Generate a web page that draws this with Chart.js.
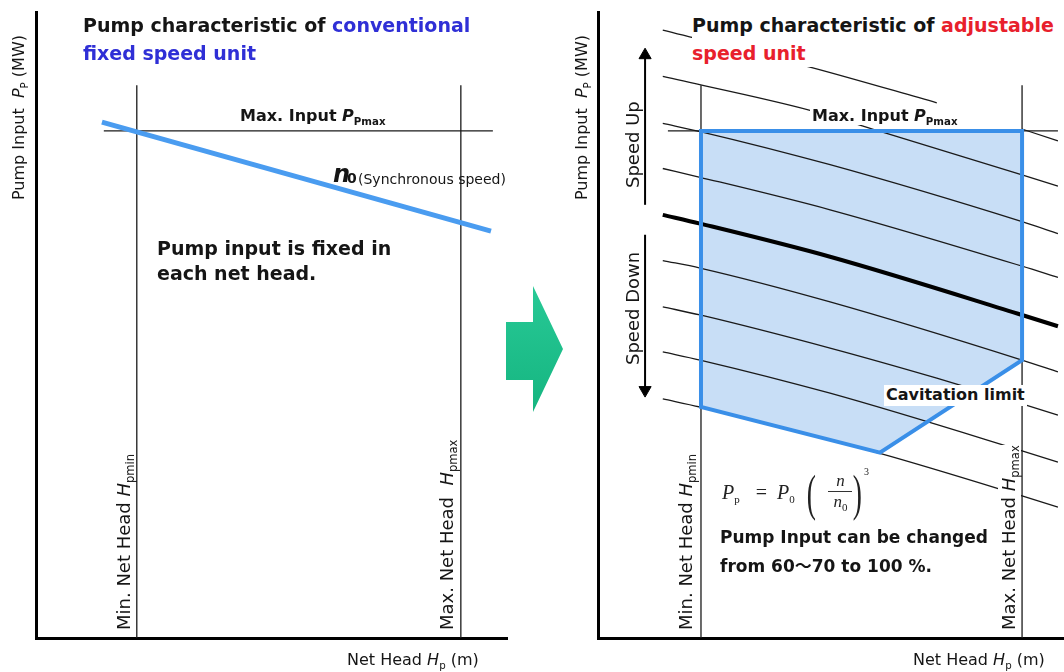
<!DOCTYPE html>
<html>
<head>
  <meta charset="UTF-8">
  <title>Pump characteristic: fixed vs adjustable speed</title>
  <script src="https://cdn.jsdelivr.net/npm/chart.js@4"></script>
  <style>
    html, body { margin: 0; background: #fff; }
    body { position: relative; width: 1064px; height: 672px; overflow: hidden;
           font-family: "DejaVu Sans", sans-serif; color: #151515; }
    .box { position: absolute; top: 0; }
    .lbl { position: absolute; white-space: nowrap; line-height: 1; }
    .rot { position: absolute; white-space: nowrap; line-height: 1;
           transform-origin: 0 0; transform: rotate(-90deg); }
    .b { font-weight: bold; }
    .bg { background: #fff; }
    .blue { color: #2f2fd6; }
    .red { color: #e8202c; }
    sub { font-size: 0.64em; vertical-align: -0.35em; line-height: 0; }
    .title { font-size: 19px; line-height: 28px; font-weight: bold; }
    .formula { font-family: "Liberation Serif", serif; font-size: 20px; color: #222; }
    .formula sub { font-size: 11px; vertical-align: -4px; }
    .formula .eq { margin: 0 10px 0 16px; font-style: normal; }
    .formula .par { font-size: 50px; font-weight: 100; vertical-align: -11px; display: inline-block; transform: scaleX(0.55); margin: 0 1px 0 8px; }
    .formula .par.close { margin: 0 0 0 -3px; }
    .formula .frac { display: inline-block; vertical-align: -8px; text-align: center; font-size: 17px; line-height: 1.15; margin: 0 0 0 8px; }
    .formula .frac span { display: block; padding: 0 5px; }
    .formula .frac .num { border-bottom: 1px solid #333; }
    .formula sup { font-size: 10px; vertical-align: 24px; line-height: 0; margin-left: -2px; }
    #arrow { position: absolute; left: 506px; top: 286px; width: 57px; height: 126px;
             background: linear-gradient(#28c996, #15b580);
             clip-path: polygon(0 36px, 27px 36px, 27px 0, 57px 63px, 27px 126px, 27px 94px, 0 94px); }
  </style>
</head>
<body>
  <div class="box" style="left:0"><canvas id="fixed" width="520" height="672"></canvas></div>
  <div class="box" style="left:540px"><canvas id="adjust" width="524" height="672"></canvas></div>
  <div id="arrow"></div>

  <!-- left: conventional fixed speed unit -->
  <div class="lbl title" style="left:83px;top:11px">Pump characteristic of <span class="blue">conventional</span><br><span class="blue">fixed speed unit</span></div>
  <div class="lbl b" style="left:240px;top:108px;font-size:16px">Max. Input <i>P</i><sub>Pmax</sub></div>
  <div class="lbl b" style="left:333px;top:162px;font-size:24px"><i>n</i><sub style="font-size:14px;vertical-align:-1px;margin-left:-3px">0</sub></div>
  <div class="lbl" style="left:358px;top:172px;font-size:14px">(Synchronous speed)</div>
  <div class="lbl b" style="left:157px;top:236px;font-size:19px;line-height:25px">Pump input is fixed in<br>each net head.</div>
  <div class="rot" style="left:115px;top:630px;font-size:18px">Min. Net Head <i>H</i><sub>pmin</sub></div>
  <div class="rot" style="left:438px;top:630px;font-size:18px">Max. Net Head&nbsp; <i>H</i><sub>pmax</sub></div>
  <div class="rot" style="left:11px;top:200px;font-size:16px">Pump Input&nbsp; <i>P</i><sub>P</sub> (MW)</div>
  <div class="lbl" style="left:347px;top:652px;font-size:16px">Net Head <i>H</i><sub>p</sub> (m)</div>

  <!-- right: adjustable speed unit -->
  <div class="lbl title bg" style="left:692px;top:11px">Pump characteristic of <span class="red">adjustable</span><br><span class="red">speed unit</span></div>
  <div class="lbl b bg" style="left:810px;top:106px;font-size:16px;padding:2px 2px 1px">Max. Input <i>P</i><sub>Pmax</sub></div>
  <div class="rot" style="left:624px;top:188px;font-size:18px">Speed Up</div>
  <div class="rot" style="left:624px;top:365px;font-size:18px">Speed Down</div>
  <div class="rot" style="left:574px;top:200px;font-size:16px">Pump Input&nbsp; <i>P</i><sub>P</sub> (MW)</div>
  <div class="lbl b bg" style="left:884px;top:385px;font-size:16px;padding:2px 2px 3px">Cavitation limit</div>
  <div class="rot" style="left:677px;top:630px;font-size:18px">Min. Net Head <i>H</i><sub>pmin</sub></div>
  <div class="rot bg" style="left:998px;top:630px;font-size:18px;padding:2px 0 3px">Max. Net Head <i>H</i><sub>pmax</sub></div>
  <div class="lbl formula" style="left:722px;top:468px"><i>P</i><sub>p</sub><span class="eq">=</span><i>P</i><sub>0</sub><span class="par">(</span><span class="frac"><span class="num"><i>n</i></span><span><i>n</i><sub>0</sub></span></span><span class="par close">)</span><sup>3</sup></div>
  <div class="lbl b" style="left:720px;top:524px;font-size:17px;line-height:27px">Pump Input can be changed<br>from 60<span style="font-family:'Noto Sans CJK JP'">〜</span>70 to 100 %.</div>
  <div class="lbl" style="left:913px;top:652px;font-size:16px">Net Head <i>H</i><sub>p</sub> (m)</div>

  <script>
    // x = net head, y = pump input, both as % of the drawn axis length

    // conventional fixed speed unit
    const fixedHeadMin = 21.4;
    const fixedHeadMax = 90.2;
    const headLineTop = 88.3;
    const inputMax = 81.0;
    const fixedInputMaxSpan = [14.4, 97.0];
    const fixedN0 = [[14.0, 82.4], [96.6, 65.0]];

    // adjustable speed unit
    const adjHeadMin = 22.1;
    const adjHeadMax = 91.0;
    const adjInputMaxSpan = [15.0, 98.7];
    const operatingRange = [[22.1, 81.0], [91.0, 81.0], [91.0, 44.4], [60.5, 29.6], [22.1, 36.9], [22.1, 81.0]];

    // constant speed curves, highest speed first (null = hidden behind a label)
    const speedUp4 = [[13.9, 97.1], [45.5, 91.2], [72.7, 85.5], [82.0, null], [91.0, 81.3], [98.7, 79.4]];
    const speedUp3 = [[13.9, 89.7], [45.5, 84.3], [61.6, 80.7], [91.0, 74.0], [98.7, 72.2]];
    const speedUp2 = [[13.9, 82.2], [21.9, 80.9], [49.8, 75.6], [91.0, 66.5], [98.7, 64.6]];
    const speedUp1 = [[13.9, 75.0], [21.9, 73.6], [49.8, 68.4], [91.0, 59.4], [98.7, 57.6]];
    const speedN0 = [[13.9, 67.6], [21.9, 66.2], [49.8, 60.9], [91.0, 51.6], [98.7, 49.8]];
    const speedDown1 = [[13.9, 60.3], [21.9, 59.1], [49.8, 53.7], [91.0, 44.4], [98.7, 42.5]];
    const speedDown2 = [[13.9, 52.9], [21.9, 51.6], [49.8, 46.3], [72.7, 41.5], [91.0, 37.4], [98.7, 35.6]];
    const speedDown3 = [[13.9, 45.7], [21.9, 44.4], [49.8, 39.1], [91.0, 29.9], [98.7, 28.1]];
    const speedDown4 = [[13.9, 38.2], [21.9, 36.9], [60.5, 29.5], [91.0, 22.7], [98.7, 20.9]];

    const speedUpArrow = [[10.1, 69.2], [10.1, 93.1]];
    const speedDownArrow = [[10.1, 64.4], [10.1, 39.6]];

    function seg(points, color, width, order, extra) {
      return Object.assign({
        data: points.map(p => ({ x: p[0], y: p[1] })),
        borderColor: color,
        borderWidth: width,
        pointRadius: 0,
        fill: false,
        order: order
      }, extra || {});
    }

    function makeChart(id, datasets, pad) {
      return new Chart(document.getElementById(id), {
        type: 'line',
        data: { datasets: datasets },
        options: {
          responsive: false,
          animation: false,
          devicePixelRatio: 1,
          events: [],
          layout: { padding: pad, autoPadding: false },
          plugins: { legend: { display: false }, tooltip: { enabled: false } },
          scales: {
            x: { type: 'linear', min: 0, max: 100, ticks: { display: false },
                 grid: { display: false, drawTicks: false }, border: { color: '#000', width: 3 } },
            y: { type: 'linear', min: 0, max: 100, ticks: { display: false },
                 grid: { display: false, drawTicks: false }, border: { color: '#000', width: 3 } }
          }
        }
      });
    }

    const thin = '#1a1a1a';
    const curve = { cubicInterpolationMode: 'monotone' };

    makeChart('fixed', [
      seg(fixedN0, '#4a9cf0', 5, 0),
      seg([[fixedInputMaxSpan[0], inputMax], [fixedInputMaxSpan[1], inputMax]], thin, 1.3, 2),
      seg([[fixedHeadMin, 0], [fixedHeadMin, headLineTop]], thin, 1.3, 2),
      seg([[fixedHeadMax, 0], [fixedHeadMax, headLineTop]], thin, 1.3, 2)
    ], { left: 36, top: 12, right: 13, bottom: 34 });

    makeChart('adjust', [
      seg(operatingRange, 'rgba(0,0,0,0)', 0, 9, { fill: 'shape', backgroundColor: '#c8def6' }),
      seg(speedUp4, thin, 1.3, 5, curve),
      seg(speedUp3, thin, 1.3, 5, curve),
      seg(speedUp2, thin, 1.3, 5, curve),
      seg(speedUp1, thin, 1.3, 5, curve),
      seg(speedN0, '#000', 4, 3, curve),
      seg(speedDown1, thin, 1.3, 5, curve),
      seg(speedDown2, thin, 1.3, 5, curve),
      seg(speedDown3, thin, 1.3, 5, curve),
      seg(speedDown4, thin, 1.3, 5, curve),
      seg([[adjInputMaxSpan[0], inputMax], [adjInputMaxSpan[1], inputMax]], thin, 1.3, 6),
      seg([[adjHeadMin, 0], [adjHeadMin, headLineTop]], thin, 1.3, 6),
      seg([[adjHeadMax, 0], [adjHeadMax, headLineTop]], thin, 1.3, 6),
      seg(operatingRange, '#3a8fe8', 4, 1, { borderJoinStyle: 'miter', borderCapStyle: 'square' }),
      seg(speedUpArrow, '#000', 2, 2, { pointRadius: [0, 7], pointStyle: 'triangle',
        pointBackgroundColor: '#000', pointBorderColor: '#000', pointBorderWidth: 1, pointRotation: [0, 0] }),
      seg(speedDownArrow, '#000', 2, 2, { pointRadius: [0, 7], pointStyle: 'triangle',
        pointBackgroundColor: '#000', pointBorderColor: '#000', pointBorderWidth: 1, pointRotation: [0, 180] })
    ], { left: 58, top: 12, right: 0, bottom: 34 });
  </script>
</body>
</html>
